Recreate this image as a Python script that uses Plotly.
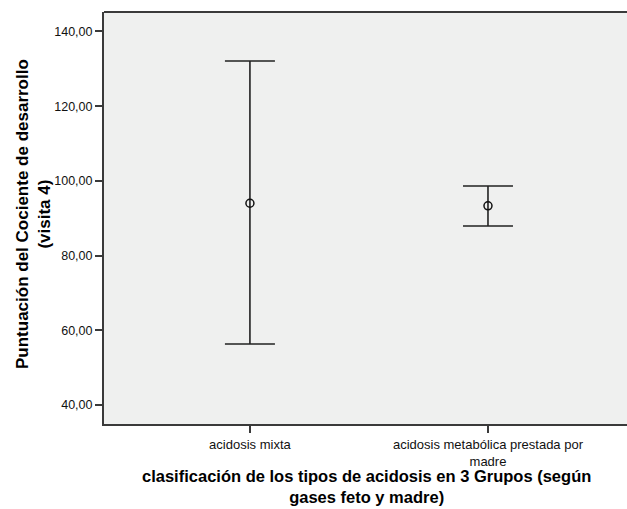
import plotly.graph_objects as go

categories = ["acidosis mixta", "acidosis metabólica prestada por<br>madre"]
means = [94.0, 93.3]
upper = [132.1, 98.6]
lower = [56.3, 87.9]
y_ticks = [40, 60, 80, 100, 120, 140]
y_tick_labels = ["40,00", "60,00", "80,00", "100,00", "120,00", "140,00"]
x_title = "clasificación de los tipos de acidosis en 3 Grupos (según<br>gases feto y madre)"
y_title = "Puntuación del Cociente de desarrollo<br>(visita 4)"

x_pos = list(range(len(categories)))
err_plus = [u - m for u, m in zip(upper, means)]
err_minus = [m - l for m, l in zip(means, lower)]

W, H = 627, 509
ML, MR, MT, MB = 104, 0, 12, 85
pw, ph = W - ML - MR, H - MT - MB

def px_to_paper_x(px):
    return (px - ML) / pw

def px_to_paper_y(py):
    return (H - MB - py) / ph

fig = go.Figure()
fig.add_trace(go.Scatter(
    x=x_pos, y=means, mode="markers",
    marker=dict(symbol="circle-open", size=8, color="#111111", line=dict(width=1.5, color="#111111")),
    error_y=dict(type="data", symmetric=False, array=err_plus, arrayminus=err_minus,
                 color="#222222", thickness=1.6, width=25),
    showlegend=False,
))

annotations = [
    dict(text="<b>%s</b>" % x_title, xref="paper", yref="paper",
         x=px_to_paper_x(366), y=px_to_paper_y(486), xanchor="center", yanchor="middle",
         showarrow=False,
         font=dict(family="Liberation Sans, Arial, sans-serif", size=16.5, color="#000000")),
    dict(text="<b>%s</b>" % y_title, xref="paper", yref="paper",
         x=px_to_paper_x(33), y=px_to_paper_y(214), xanchor="center", yanchor="middle",
         textangle=-90, showarrow=False,
         font=dict(family="Liberation Sans, Arial, sans-serif", size=17, color="#000000")),
]

fig.update_layout(
    width=W, height=H,
    margin=dict(l=ML, r=MR, t=MT, b=MB),
    paper_bgcolor="white",
    plot_bgcolor="#EFF0EF",
    font=dict(family="Liberation Sans, Arial, sans-serif", color="#111111"),
    xaxis=dict(
        range=[-0.613, 1.584], tickmode="array", tickvals=x_pos, ticktext=categories,
        showgrid=False, zeroline=False, showline=True, linecolor="#3a3a3a", linewidth=2,
        ticks="outside", ticklen=7, tickwidth=1.5, tickcolor="#3a3a3a",
        tickfont=dict(size=13),
    ),
    yaxis=dict(
        range=[34.9, 145.2], tickmode="array", tickvals=y_ticks, ticktext=y_tick_labels,
        showgrid=False, zeroline=False, showline=True, linecolor="#3a3a3a", linewidth=2,
        ticks="outside", ticklen=7, tickwidth=1.5, tickcolor="#3a3a3a",
        tickfont=dict(size=12.5),
    ),
    shapes=[dict(type="line", xref="paper", yref="paper", x0=0, x1=1, y0=1, y1=1,
                 line=dict(color="#3a3a3a", width=2))],
    annotations=annotations,
)

fig.write_html("out.html")
